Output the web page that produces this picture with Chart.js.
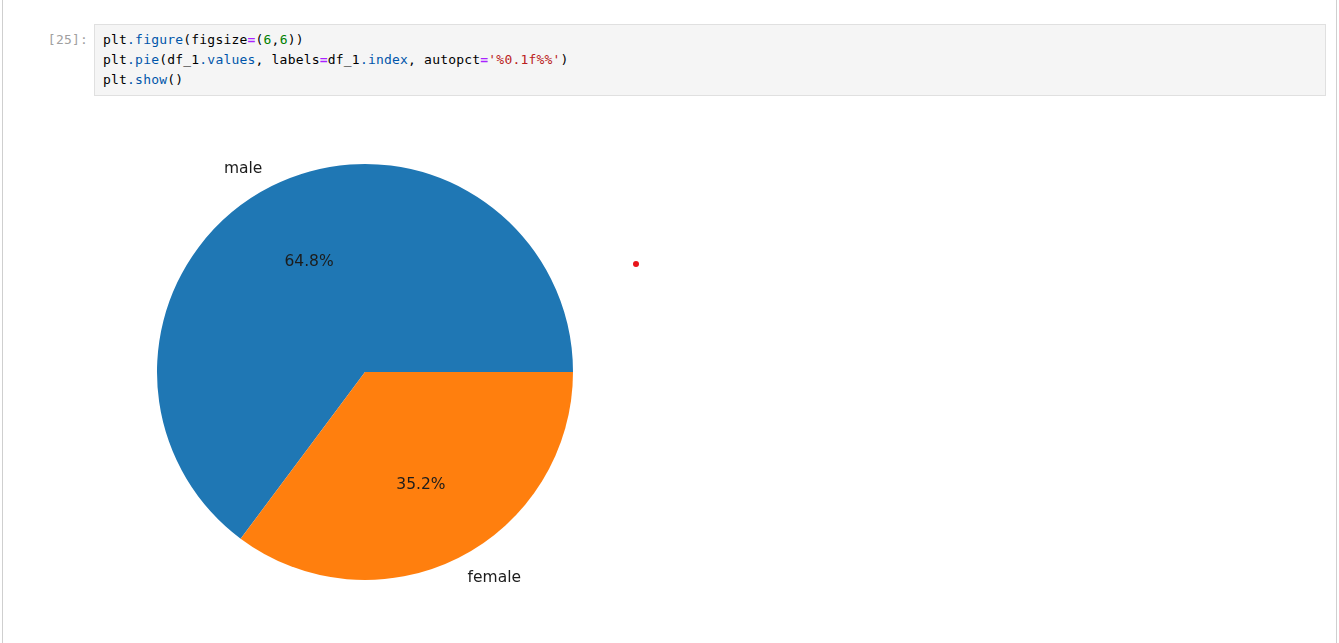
<!DOCTYPE html>
<html>
<head>
<meta charset="utf-8">
<script src="https://cdn.jsdelivr.net/npm/chart.js@4"></script>
<style>
  body { margin: 0; background: #fff; width: 1339px; height: 643px; overflow: hidden; position: relative; }
  .edge { position: absolute; top: 0; width: 1px; height: 643px; background: #cfcfcf; }
  .prompt { position: absolute; left: 30px; top: 30px; width: 58px; text-align: right;
    font: 13px "DejaVu Sans Mono", monospace; letter-spacing: 0.2px; color: #a0a0a0; line-height: 20px; }
  .cell { position: absolute; left: 94px; top: 24px; width: 1214px; height: 60px;
    background: #f5f5f5; border: 1px solid #e0e0e0; padding: 5px 8px; }
  .cell pre { margin: 0; font: 13px "DejaVu Sans Mono", monospace; letter-spacing: 0.2px; line-height: 20px; color: #000; }
  .at { color: #0055aa; }
  .op { color: #aa22ff; font-weight: bold; }
  .nm { color: #008000; }
  .st { color: #ba2121; }
  #wrap { position: absolute; left: 65px; top: 122px; width: 600px; height: 500px; }
  .dot { position: absolute; left: 633px; top: 261px; width: 6px; height: 6px; border-radius: 50%; background: #e8141a; }
</style>
</head>
<body>
<div class="edge" style="left:2px"></div>
<div class="edge" style="left:1336px"></div>
<div class="prompt">[25]:</div>
<div class="cell"><pre>plt<span class="at">.figure</span>(figsize<span class="op">=</span>(<span class="nm">6</span>,<span class="nm">6</span>))
plt<span class="at">.pie</span>(df_1<span class="at">.values</span>, labels<span class="op">=</span>df_1<span class="at">.index</span>, autopct<span class="op">=</span><span class="st">'%0.1f%%'</span>)
plt<span class="at">.show</span>()</pre></div>
<div id="wrap"><canvas id="chart"></canvas></div>
<div class="dot"></div>
<script>
const labels = ['male', 'female'];
const shares = [64.8, 35.2];
const colors = ['#1f77b4', '#ff7f0e'];

chartIt();

function chartIt() {
    const total = shares.reduce((a, b) => a + b, 0);
    // matplotlib goes counter-clockwise from 3 o'clock, chart.js goes clockwise,
    // so start the first slice where it has to end up
    const rotation = 90 + 360 * (total - shares[0]) / total;

    const pieText = {
        id: 'pieText',
        afterDatasetsDraw(chart) {
            const ctx = chart.ctx;
            const arcs = chart.getDatasetMeta(0).data;
            ctx.save();
            ctx.font = '15.5px "DejaVu Sans"';
            ctx.fillStyle = '#1c1c1c';
            ctx.textBaseline = 'middle';
            arcs.forEach((arc, i) => {
                const mid = (arc.startAngle + arc.endAngle) / 2;
                const r = arc.outerRadius;
                const cx = Math.cos(mid), cy = Math.sin(mid);
                // label outside
                ctx.textAlign = cx < 0 ? 'right' : 'left';
                ctx.fillText(labels[i], arc.x + 1.1 * r * cx, arc.y + 1.1 * r * cy + 1.5);
                // percentage inside
                ctx.textAlign = 'center';
                const pct = (100 * shares[i] / total).toFixed(1) + '%';
                ctx.fillText(pct, arc.x + 0.6 * r * cx, arc.y + 0.6 * r * cy + 1.5);
            });
            ctx.restore();
        }
    };

    new Chart(document.getElementById('chart'), {
        type: 'pie',
        data: {
            labels: labels,
            datasets: [{
                data: shares,
                backgroundColor: colors,
                borderWidth: 0
            }]
        },
        options: {
            responsive: true,
            maintainAspectRatio: false,
            animation: false,
            rotation: rotation,
            layout: { padding: { top: 42, bottom: 42, left: 92, right: 92 } },
            plugins: {
                legend: { display: false },
                tooltip: { enabled: false }
            }
        },
        plugins: [pieText]
    });
}
</script>
</body>
</html>
